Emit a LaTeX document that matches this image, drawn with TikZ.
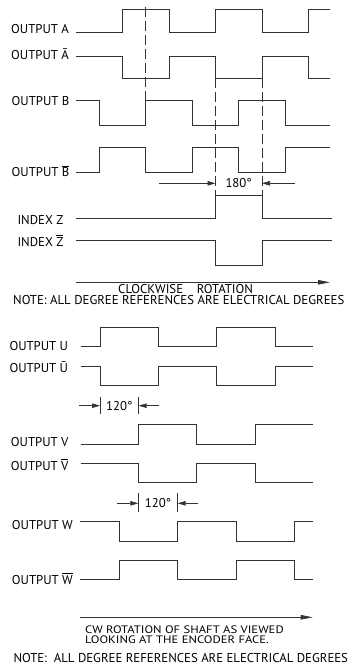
\documentclass[tikz,border=0pt]{standalone}
\usepackage{fontspec}
\setmainfont{PT Sans}
\usetikzlibrary{arrows.meta}
\newcommand\obar[1]{$\overline{\mbox{#1}}$}
\begin{document}
\begin{tikzpicture}[x=1pt,y=-1pt,
  wave/.style={line width=0.9pt, draw=black!80},
  lbl/.style={anchor=base west, inner sep=0pt, font=\fontsize{12.8}{13}\selectfont},
  txt/.style={inner sep=0pt, font=\fontsize{12.8}{13}\selectfont},
  dsh/.style={line width=0.8pt, draw=black!80, dash pattern=on 10pt off 4pt},
  dimarrow/.style={line width=0.7pt, draw=black!80, -{Triangle[length=8pt,width=4.5pt]}},
  extline/.style={line width=0.7pt, draw=black!80}]
\useasboundingbox (0,0) rectangle (359,668);

% ---------- top section ----------
\node[lbl] (lA) at (11,33.3) {OUTPUT A};
\node[lbl] (lAb) at (11,60) {OUTPUT \={A}};
\node[lbl] (lB) at (11.5,106) {OUTPUT B};
\node[lbl] (lBb) at (11.5,176.7) {OUTPUT \obar{B}};
\node[lbl] (lZ) at (17.3,224) {INDEX Z};
\node[lbl] (lZb) at (17.3,246) {INDEX \obar{Z}};

\draw[wave] (76,32) -- (122.5,32) -- (122.5,9) -- (169,9) -- (169,32) -- (215.5,32) -- (215.5,9) -- (262,9) -- (262,32) -- (308.5,32) -- (308.5,9) -- (330,9);
\draw[wave] (76,56) -- (122.5,56) -- (122.5,78) -- (169,78) -- (169,56) -- (215.5,56) -- (215.5,78) -- (262,78) -- (262,56) -- (308.5,56) -- (308.5,78) -- (330,78);
\draw[wave] (76,100.3) -- (99,100.3) -- (99,125.3) -- (145.5,125.3) -- (145.5,100.3) -- (192,100.3) -- (192,125.3) -- (238.5,125.3) -- (238.5,100.3) -- (285,100.3) -- (285,125.3) -- (330,125.3);
\draw[wave] (76,172) -- (99,172) -- (99,147.7) -- (145.5,147.7) -- (145.5,172) -- (192,172) -- (192,147.7) -- (238.5,147.7) -- (238.5,172) -- (285,172) -- (285,147.7) -- (330,147.7);

\draw[dsh] (145.5,7) -- (145.5,100.3);
\draw[dsh] (215.5,78) -- (215.5,195);
\draw[dsh] (262,78) -- (262,195);

\coordinate (d1a) at (159,183.3);
\coordinate (d1b) at (215.5,183.3);
\coordinate (d2a) at (295,183.3);
\coordinate (d2b) at (262,183.3);
\draw[dimarrow] (d1a) -- (d1b);
\draw[dimarrow] (d2a) -- (d2b);
\node[txt] (t180) at (238.7,183.3) {180°};

\draw[wave] (76,218.3) -- (215.5,218.3) -- (215.5,195) -- (262,195) -- (262,218.3) -- (331.5,218.3);
\draw[wave] (76,240.7) -- (215.5,240.7) -- (215.5,265) -- (262,265) -- (262,240.7) -- (331.5,240.7);

\coordinate (cwa) at (76,282.3);
\coordinate (cwb) at (330,282.3);
\draw[line width=0.8pt, draw=black!80, -{Triangle[length=12pt,width=4.5pt]}] (cwa) -- (cwb);
\node[lbl] (tcw) at (118,293.3) {CLOCKWISE\ \ \ \ ROTATION};
\node[lbl] (tnote1) at (13,304.8) {NOTE: ALL DEGREE REFERENCES ARE ELECTRICAL DEGREES};

% ---------- bottom section ----------
\node[lbl] (lU) at (9.3,350.7) {OUTPUT U};
\node[lbl] (lUb) at (9.3,372.3) {OUTPUT \={U}};
\node[lbl] (lV) at (10.7,446) {OUTPUT V};
\node[lbl] (lVb) at (10.7,470) {OUTPUT \obar{V}};
\node[lbl] (lW) at (11.7,529.3) {OUTPUT W};
\node[lbl] (lWb) at (11.7,584) {OUTPUT \obar{W}};

\draw[wave] (80.7,346.7) -- (100,346.7) -- (100,327.3) -- (158.3,327.3) -- (158.3,346.7) -- (216.7,346.7) -- (216.7,327.3) -- (275,327.3) -- (275,346.7) -- (312.7,346.7);
\draw[wave] (80.7,366) -- (100,366) -- (100,385.3) -- (158.3,385.3) -- (158.3,366) -- (216.7,366) -- (216.7,385.3) -- (275,385.3) -- (275,366) -- (312.7,366);

\draw[extline] (100,397) -- (100,414);
\draw[extline] (138.7,397) -- (138.7,414);
\coordinate (e1a) at (79,405.7);
\coordinate (e1b) at (100,405.7);
\coordinate (e2a) at (159.3,405.7);
\coordinate (e2b) at (138.7,405.7);
\draw[dimarrow] (e1a) -- (e1b);
\draw[dimarrow] (e2a) -- (e2b);
\node[txt] (t120a) at (119.3,405.7) {120°};

\draw[wave] (80.7,444) -- (138.7,444) -- (138.7,424.3) -- (196.7,424.3) -- (196.7,444) -- (255,444) -- (255,424.3) -- (312.7,424.3);
\draw[wave] (80.7,463.3) -- (138.7,463.3) -- (138.7,482.7) -- (196.7,482.7) -- (196.7,463.3) -- (255,463.3) -- (255,482.7) -- (312.7,482.7);

\draw[extline] (138.3,493.3) -- (138.3,511.7);
\draw[extline] (177.7,493.3) -- (177.7,511.7);
\coordinate (f1a) at (117.3,503.3);
\coordinate (f1b) at (138.3,503.3);
\coordinate (f2a) at (198.3,503.3);
\coordinate (f2b) at (177.7,503.3);
\draw[dimarrow] (f1a) -- (f1b);
\draw[dimarrow] (f2a) -- (f2b);
\node[txt] (t120b) at (158,503.3) {120°};

\draw[wave] (80,521.7) -- (119.3,521.7) -- (119.3,541) -- (177.7,541) -- (177.7,521.7) -- (236,521.7) -- (236,541) -- (294,541) -- (294,521.7) -- (312.7,521.7);
\draw[wave] (80,579.3) -- (119.3,579.3) -- (119.3,560.7) -- (177.7,560.7) -- (177.7,579.3) -- (236,579.3) -- (236,560.7) -- (294,560.7) -- (294,579.3) -- (312.7,579.3);

\coordinate (cw2a) at (80,617.3);
\coordinate (cw2b) at (312.7,617.3);
\draw[line width=0.8pt, draw=black!80, -{Triangle[length=12pt,width=4.5pt]}] (cw2a) -- (cw2b);
\node[lbl, font=\fontsize{10.8}{11}\selectfont] (tcw2a) at (85,633.6) {\scalebox{1.17}[1]{CW ROTATION OF SHAFT AS VIEWED}};
\node[lbl, font=\fontsize{10.8}{11}\selectfont] (tcw2b) at (85,643.8) {\scalebox{1.17}[1]{LOOKING AT THE ENCODER FACE.}};
\node[lbl] (tnote2) at (13.3,662.6) {NOTE:\ \ ALL DEGREE REFERENCES ARE ELECTRICAL DEGREES};
\end{tikzpicture}
\end{document}
